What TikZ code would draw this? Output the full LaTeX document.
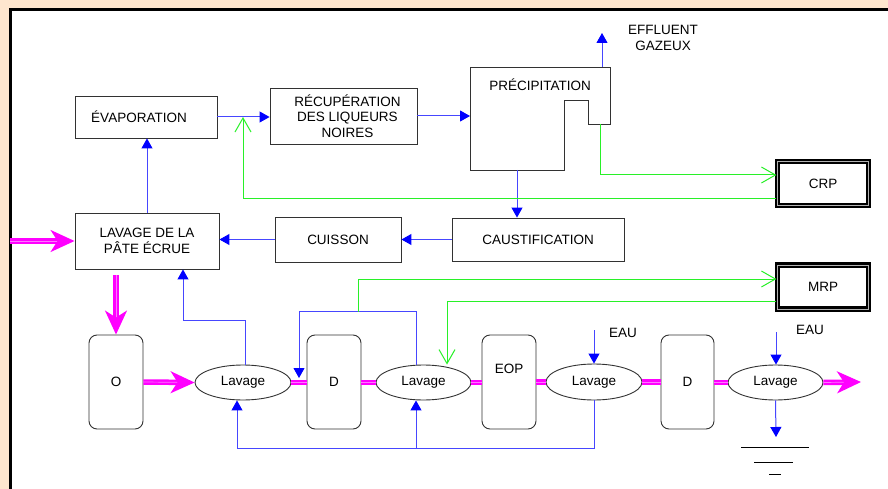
\documentclass[tikz,border=0pt]{standalone}
\usepackage{fontspec}
\setmainfont{Liberation Sans}
\usepackage{tikz}
\usetikzlibrary{arrows.meta,shapes.geometric}
\definecolor{fondPeche}{RGB}{254,230,206}
\definecolor{fluxBleu}{RGB}{70,70,255}
\definecolor{pointeBleu}{RGB}{0,0,255}
\definecolor{recycVert}{RGB}{40,240,40}
\definecolor{pateMagenta}{RGB}{255,0,255}
\definecolor{pateRose}{RGB}{255,120,255}
\definecolor{traitGris}{RGB}{50,50,50}

\tikzset{
  bloc/.style={draw=traitGris, line width=0.9pt, inner sep=0pt, align=center,
    font=\fontsize{13.5}{15.5}\selectfont},
  tour/.style={bloc, rounded corners=8pt, minimum width=54pt, minimum height=94pt},
  laveur/.style={bloc, ellipse, minimum width=96pt, minimum height=35pt},
  epais/.style={bloc, draw=black, line width=2.2pt, double=gray!60, double distance=0.8pt,
    minimum width=91pt, minimum height=44pt},
  texte/.style={inner sep=0pt, align=center, font=\fontsize{13.5}{15.5}\selectfont},
  flux/.style={fluxBleu, line width=1pt, -{Triangle[length=10pt,width=11pt,color=pointeBleu]}},
  recyc/.style={recycVert, line width=1pt, -{Straight Barb[length=14pt,width=16pt]}},
  pate/.style={pateMagenta, line width=2.4pt, double=pateRose, double distance=0.7pt},
  patefl/.style={pate, -{Stealth[length=24pt,width=22pt,inset=7pt]}},
}

\begin{document}
\begin{tikzpicture}[x=1pt,y=-1pt]
\useasboundingbox (0,0) rectangle (888,489);
\fill[fondPeche] (0,0) rectangle (888,489);
\fill[white] (10,10) rectangle (888,489);
\draw[black, line width=3pt] (10,489) -- (10,10) -- (888,10);

% upper chain
\node[bloc, minimum width=142pt, minimum height=42pt] (evap) at (146,117) {ÉVAPORATION\hspace{14pt}};
\node[bloc, minimum width=147pt, minimum height=56pt] (recup) at (343.5,116) {\hspace*{8pt}RÉCUPÉRATION\\\hspace*{8pt}DES LIQUEURS\\\hspace*{8pt}NOIRES};
\node[bloc, minimum width=144pt, minimum height=56pt] (lavpate) at (147,241) {LAVAGE DE LA\\PÂTE ÉCRUE\hspace{6pt}};
\node[bloc, minimum width=126pt, minimum height=45pt] (cuisson) at (338,239.5) {CUISSON};
\node[bloc, minimum width=172pt, minimum height=43pt] (caustif) at (538,239.5) {CAUSTIFICATION};
\node[epais] (crp) at (823,183.5) {CRP};
\node[epais] (mrp) at (823,287) {MRP};

% precipitation block with its notch
\draw[traitGris, line width=0.9pt] (470,67) -- (610,67) -- (610,124) -- (588,124) -- (588,100)
  -- (564,100) -- (564,170) -- (470,170) -- cycle;
\node[texte] (precip) at (540,85) {PRÉCIPITATION};
\coordinate (precipO) at (470,116);
\coordinate (precipN) at (602,67);
\coordinate (precipS) at (517,170);
\coordinate (precipV) at (600,124);
\coordinate (gazout) at (602,33);
\node[texte] (effluent) at (663,38) {EFFLUENT\\GAZEUX};

\draw[flux] (evap.east) -- (recup.west |- evap.east);
\draw[flux] (recup.east) -- (precipO);
\draw[flux] (precipN) -- (gazout);
\draw[flux] (precipS) -- (caustif.north -| precipS);
\draw[flux] (caustif.west) -- (cuisson.east);
\draw[flux] (cuisson.west) -- (lavpate.east |- cuisson.west);
\draw[flux] (lavpate.north) -- (lavpate.north |- evap.south);

% green returns
\coordinate (retour) at (243,117);
\draw[recyc] (precipV) |- ([yshift=8.5pt]crp.west);
\draw[recyc] ([yshift=-14.5pt]crp.west) -| (retour);

% washing line
\node[tour] (o) at (116,382) {O};
\node[laveur] (lav1) at (243,382.5) {Lavage};
\node[tour] (d1) at (334,382) {D};
\node[laveur, minimum width=95pt] (lav2) at (423.5,382.5) {Lavage};
\node[tour, text depth=26pt] (eop) at (509,382) {EOP};
\node[laveur, minimum width=96pt, minimum height=36pt] (lav3) at (594,382) {Lavage};
\node[tour, minimum width=53pt] (d2) at (687.5,382) {D};
\node[laveur, minimum width=95pt] (lav4) at (775.5,382.5) {Lavage};

% pulp
\coordinate (entree) at (10,241);
\coordinate (sortie) at (861,382);
\draw[patefl] (entree) -- (lavpate.west);
\draw[patefl] ([yshift=-6pt]lavpate.south -| o.north) -- (o.north);
\draw[patefl] (o.east) -- (lav1.west);
\draw[pate] (lav1.east) -- (d1.west |- lav1.east);
\draw[pate] (d1.east |- lav2.west) -- (lav2.west);
\draw[pate] (lav2.east) -- (eop.west |- lav2.east);
\draw[pate] (eop.east |- lav3.west) -- (lav3.west);
\draw[pate] (lav3.east) -- (d2.west |- lav3.east);
\draw[pate] (d2.east |- lav4.west) -- (lav4.west);
\draw[patefl] (lav4.east) -- (sortie);

% filtrates
\coordinate (entreD1) at (299,378);
\coordinate (mrpdep) at (358,312);
\draw[flux] ([xshift=2pt]lav1.north) -- ++(0,-44) -| ([xshift=36pt]lavpate.south);
\draw[flux] ([xshift=-7.5pt]lav2.north) -- ++(0,-53) -| (entreD1);
\draw[recyc] (mrpdep) |- ([yshift=8pt]mrp.west);
\draw[recyc] ([yshift=-14pt]mrp.west) -| ([xshift=23.5pt]lav2.north);
\coordinate (b2) at (416,448);
\draw[flux] (lav3.south) -- ++(0,48) -| ([xshift=-6pt]lav1.south);
\draw[flux] (b2) -- ([xshift=-7.5pt]lav2.south);

% water
\coordinate (eau1) at (594,330);
\coordinate (eau2) at (776,332);
\draw[flux] (eau1) -- (lav3.north);
\draw[flux] (eau2) -- (eau2 |- lav4.north);
\node[texte] (eautxt1) at (623,333) {EAU};
\node[texte] (eautxt2) at (810,330) {EAU};

% sewer
\coordinate (terre) at (776,437);
\draw[flux] (lav4.south) -- (terre);
\draw[black, line width=0.9pt] (741,447) -- (809,447) (754,462) -- (793,462) (769,474) -- (781,474);
\end{tikzpicture}
\end{document}
